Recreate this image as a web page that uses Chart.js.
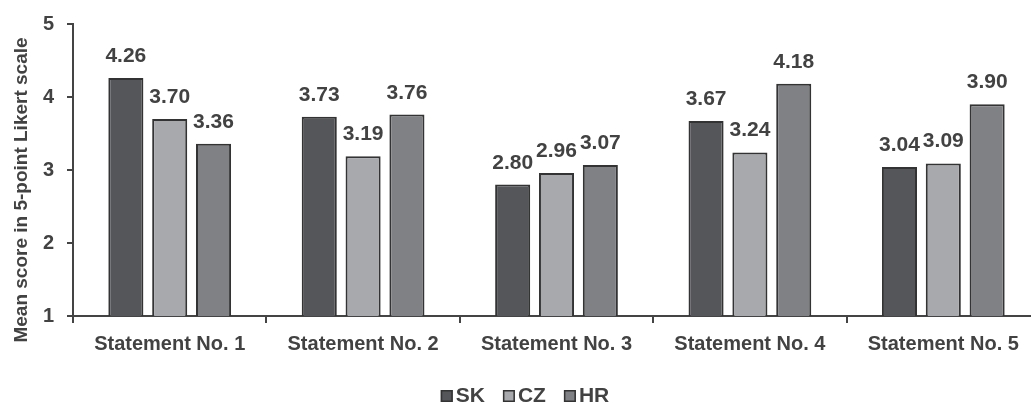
<!DOCTYPE html>
<html><head><meta charset="utf-8">
<script src="https://cdn.jsdelivr.net/npm/chart.js@4/dist/chart.umd.min.js"></script>
<style>
html,body{margin:0;padding:0;background:#fff;overflow:hidden;width:1031px;height:405px;}
#wrap{width:1031px;height:405px;overflow:hidden;}
</style></head>
<body><div id="wrap"><canvas id="c" width="1045" height="405"></canvas></div>
<script>
const categories = ["Statement No. 1","Statement No. 2","Statement No. 3","Statement No. 4","Statement No. 5"];
const seriesNames = ["SK","CZ","HR"];
const skValues = [4.26, 3.73, 2.80, 3.67, 3.04];
const czValues = [3.70, 3.19, 2.96, 3.24, 3.09];
const hrValues = [3.36, 3.76, 3.07, 4.18, 3.90];
const yTicks = [1, 2, 3, 4, 5];
const yTitle = "Mean score in 5-point Likert scale";

const FONT = "'Liberation Sans', Arial, sans-serif";
const TXT = "#424242";
const colors = ["#55565a", "#a7a9ac", "#808184"];
const values = [skValues, czValues, hrValues];

const labelPlugin = {
  id: 'valueLabels',
  afterDatasetsDraw(chart) {
    const ctx = chart.ctx;
    ctx.save();
    ctx.font = "bold 21px " + FONT;
    ctx.fillStyle = TXT;
    ctx.textAlign = 'center';
    ctx.textBaseline = 'alphabetic';
    chart.data.datasets.forEach((ds, di) => {
      const meta = chart.getDatasetMeta(di);
      meta.data.forEach((bar, i) => {
        ctx.fillText(ds.data[i].toFixed(2), bar.x, bar.y - 16);
      });
    });
    ctx.restore();
  }
};
const titlePlugin = {
  id: 'yTitleAndLegend',
  afterDraw(chart) {
    const ctx = chart.ctx;
    const ca = chart.chartArea;
    ctx.save();
    ctx.font = "bold 19px " + FONT;
    ctx.fillStyle = TXT;
    ctx.textAlign = 'center';
    ctx.textBaseline = 'middle';
    ctx.translate(22, (ca.top + ca.bottom) / 2 + 20);
    ctx.rotate(-Math.PI / 2);
    ctx.fillText(yTitle, 0, 0);
    ctx.restore();

    // legend
    ctx.save();
    ctx.font = "bold 21px " + FONT;
    const box = 12, gap = 3, spacing = 18;
    const widths = seriesNames.map(n => box + gap + ctx.measureText(n).width);
    const total = widths.reduce((a, b) => a + b, 0) + spacing * (seriesNames.length - 1);
    let x = 525 - total / 2;
    const cy = 396;
    ctx.textBaseline = 'middle';
    ctx.textAlign = 'left';
    seriesNames.forEach((n, i) => {
      ctx.fillStyle = colors[i];
      ctx.fillRect(x, cy - box / 2, box, box);
      ctx.strokeStyle = '#333';
      ctx.lineWidth = 1.5;
      ctx.strokeRect(x + 0.75, cy - box / 2 + 0.75, box - 1.5, box - 1.5);
      ctx.fillStyle = TXT;
      ctx.fillText(n, x + box + gap, cy);
      x += widths[i] + spacing;
    });
    ctx.restore();
  }
};

new Chart(document.getElementById('c'), {
  type: 'bar',
  data: {
    labels: categories,
    datasets: seriesNames.map((n, i) => ({
      label: n,
      data: values[i],
      backgroundColor: colors[i],
      borderColor: "#333333",
      borderWidth: 2,
      categoryPercentage: 0.68,
      barPercentage: 0.8
    }))
  },
  options: {
    responsive: false,
    animation: false,
    layout: { padding: { top: 24, right: 5, left: 0, bottom: 0 } },
    plugins: {
      legend: { display: false },
      tooltip: { enabled: false }
    },
    scales: {
      y: {
        min: 1, max: 5,
        afterBuildTicks(scale) { scale.ticks = yTicks.map(v => ({ value: v })); },
        afterFit(scale) { scale.width = 73; scale.paddingTop = 0; },
        border: { display: true, color: '#444', width: 2 },
        grid: { display: true, drawOnChartArea: false, drawTicks: true, tickLength: 6, color: '#444', lineWidth: 2 },
        ticks: { padding: 13, color: TXT, font: { family: FONT, size: 20, weight: 'bold', lineHeight: 1 } }
      },
      x: {
        afterFit(scale) { scale.height = 89; },
        border: { display: true, color: '#444', width: 2 },
        grid: { display: true, drawOnChartArea: false, drawTicks: true, tickLength: 7, color: '#444', lineWidth: 2, offset: true },
        ticks: { padding: 9, color: TXT, maxRotation: 0, font: { family: FONT, size: 20, weight: 'bold' } }
      }
    }
  },
  plugins: [labelPlugin, titlePlugin]
});
</script></body></html>
